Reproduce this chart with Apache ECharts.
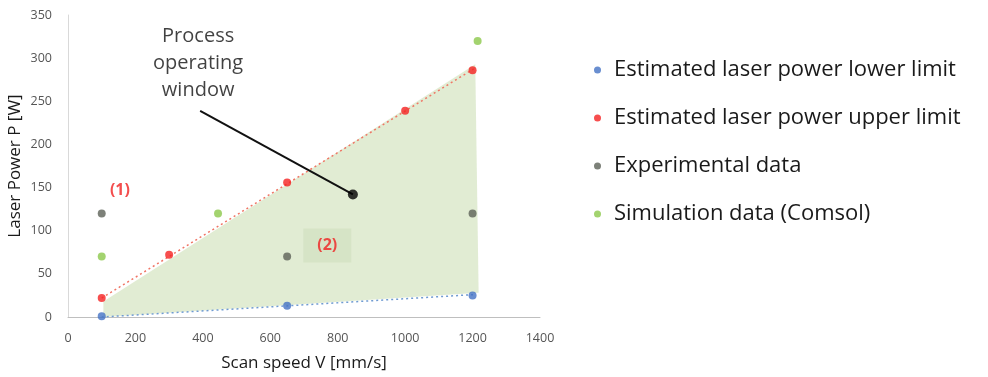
<!DOCTYPE html>
<html><head><meta charset="utf-8">
<script src="https://cdn.jsdelivr.net/npm/echarts@6/dist/echarts.min.js"></script>
<style>html,body{margin:0;padding:0;background:#fff}#c{width:988px;height:377px}</style>
</head><body><div id="c"></div>
<script>
const lowerLimit = [[100, 1], [650, 13], [1200, 25]];
const upperLimit = [[100, 22], [300, 72], [650, 156], [1000, 239], [1200, 286]];
const experimental = [[100, 120], [650, 70], [1200, 120]];
const simulation = [[100, 70], [445, 120], [1215, 320]];
const upperTrend = [[100, 22], [1205, 288]];
const lowerTrend = [[100, 0], [1205, 26]];
const windowPolygon = [[105, 18], [1208, 293], [1218, 28], [105, 0]];
const arrowLine = [[392, 239], [845, 142]];
const arrowHead = [[845, 142]];
const xTicks = [0, 200, 400, 600, 800, 1000, 1200, 1400];
const yTicks = [0, 50, 100, 150, 200, 250, 300, 350];
const names = ['Estimated laser power lower limit', 'Estimated laser power upper limit', 'Experimental data', 'Simulation data (Comsol)'];

const font = "'Open Sans', sans-serif";
const chart = echarts.init(document.getElementById('c'), null, {renderer: 'canvas'});
chart.setOption({
  animation: false,
  grid: {left: 68, right: 448, top: 15, bottom: 59},
  xAxis: {
    type: 'value', min: 0, max: 1400, interval: 200,
    name: 'Scan speed V [mm/s]', nameLocation: 'middle', nameGap: 38,
    nameTextStyle: {fontFamily: font, fontSize: 17, color: '#1a1a1a'},
    axisLine: {show: true, lineStyle: {color: '#bfbfbf'}},
    axisTick: {show: false},
    splitLine: {show: false},
    axisLabel: {fontFamily: font, fontSize: 12.5, color: '#555', margin: 15,
      formatter: v => String(v)}
  },
  yAxis: {
    type: 'value', min: 0, max: 350, interval: 50,
    name: 'Laser Power P [W]', nameLocation: 'middle', nameGap: 44,
    nameTextStyle: {fontFamily: font, fontSize: 17, color: '#1a1a1a'},
    axisLine: {show: true, lineStyle: {color: '#d9d9d9'}},
    axisTick: {show: false},
    splitLine: {show: false},
    axisLabel: {fontFamily: font, fontSize: 12.5, color: '#555', margin: 16,
      formatter: v => String(v)}
  },
  legend: {
    orient: 'vertical', left: 589, top: 54, itemGap: 26,
    itemWidth: 7, itemHeight: 7, icon: 'circle',
    data: names,
    textStyle: {fontFamily: font, fontSize: 22, color: '#1a1a1a', padding: [0, 0, 0, 8]}
  },
  series: [
    {
      type: 'custom', silent: true, z: 1,
      renderItem: function (params, api) {
        const pts = windowPolygon.map(p => api.coord(p));
        return {type: 'polygon', shape: {points: pts}, style: {fill: 'rgba(200,220,175,0.55)'}};
      },
      data: [0]
    },
    {type: 'line', data: upperTrend, showSymbol: false, z: 2,
     lineStyle: {color: '#f07565', width: 1.5, type: [2, 3]}},
    {type: 'line', data: lowerTrend, showSymbol: false, z: 2,
     lineStyle: {color: '#6f9bd2', width: 1.5, type: [2, 3]}},
    {name: names[0], type: 'scatter', data: lowerLimit, symbolSize: 8, itemStyle: {color: '#4472C4'}, z: 5},
    {name: names[1], type: 'scatter', data: upperLimit, symbolSize: 8, itemStyle: {color: '#F52222'}, z: 5},
    {name: names[2], type: 'scatter', data: experimental, symbolSize: 8, itemStyle: {color: '#5C6157'}, z: 5},
    {name: names[3], type: 'scatter', data: simulation, symbolSize: 8, itemStyle: {color: '#8CC84B'}, z: 5},
    {type: 'line', data: arrowLine, showSymbol: false, z: 6,
     lineStyle: {color: '#111', width: 2}},
    {type: 'scatter', data: arrowHead, symbolSize: 10, itemStyle: {color: '#000'}, z: 7},
    {type: 'scatter', symbolSize: 0, silent: true, z: 8,
     data: [
       {value: [386, 294], label: {show: true, position: 'inside', formatter: 'Process\noperating\nwindow',
         fontFamily: font, fontSize: 20, color: '#111', lineHeight: 27, align: 'center'}},
       {value: [154, 147], label: {show: true, position: 'inside', formatter: '(1)',
         fontFamily: font, fontSize: 16, fontWeight: 'bold', color: '#F02222'}},
       {value: [769, 83], label: {show: true, position: 'inside', formatter: '(2)',
         fontFamily: font, fontSize: 16, fontWeight: 'bold', color: '#F02222',
         backgroundColor: '#d3e2c3', padding: [9, 14, 9, 14]}}
     ]}
  ]
});
</script></body></html>
